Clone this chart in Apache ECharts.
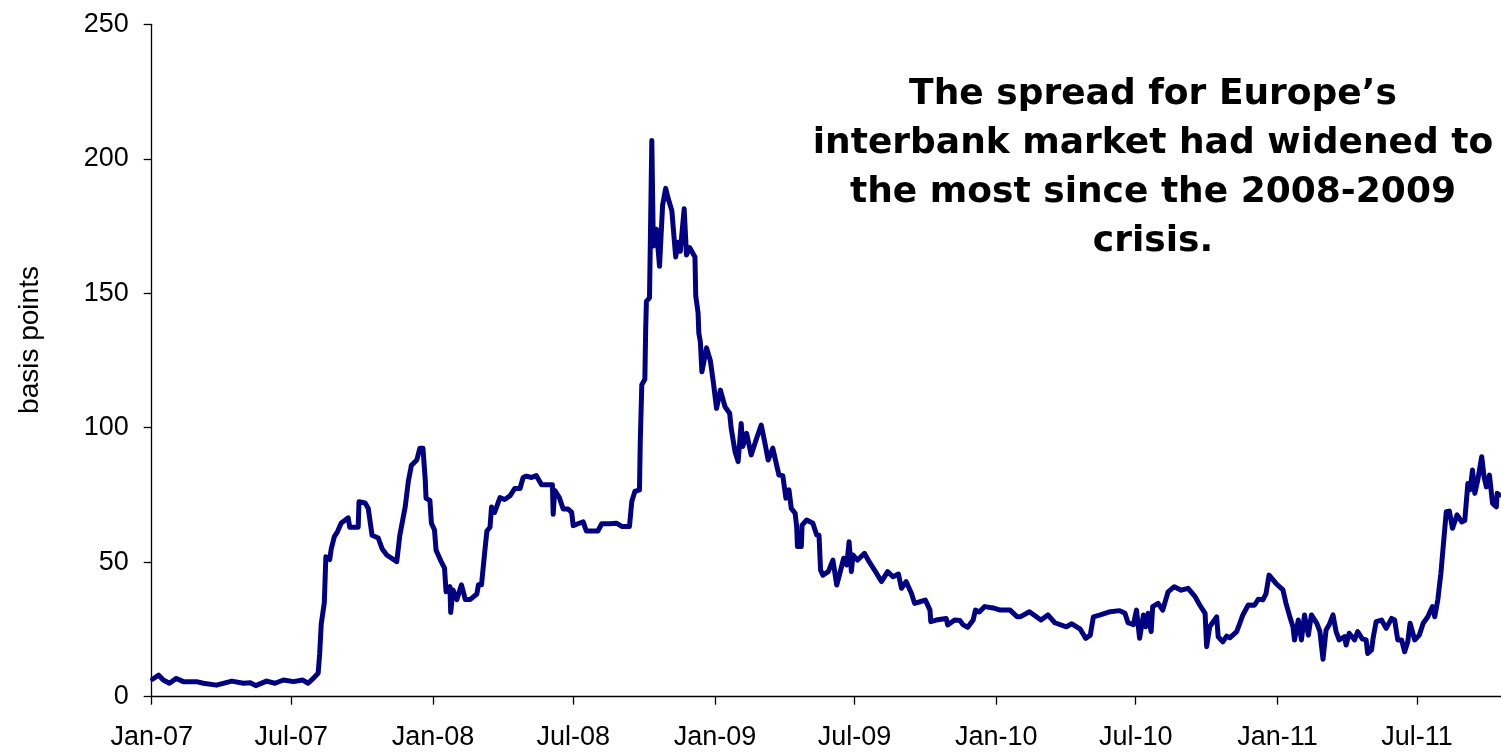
<!DOCTYPE html>
<html>
<head>
<meta charset="utf-8">
<script src="https://cdn.jsdelivr.net/npm/echarts@6/dist/echarts.min.js"></script>
<style>
  html, body { margin: 0; padding: 0; background: #ffffff; }
  #chart { width: 1501px; height: 752px; }
</style>
</head>
<body>
<div id="chart"></div>
<script>
// Euro interbank spread, basis points (daily observations, sampled)
const dates = [
  '2007-01-02','2007-01-10','2007-01-16','2007-01-24','2007-02-02','2007-02-11','2007-02-28','2007-03-09','2007-03-26','2007-04-15',
  '2007-04-30','2007-05-09','2007-05-16','2007-05-30','2007-06-10','2007-06-21','2007-07-04','2007-07-16','2007-07-23','2007-07-31',
  '2007-08-05','2007-08-07','2007-08-09','2007-08-13','2007-08-15','2007-08-20','2007-08-22','2007-08-26','2007-08-30','2007-09-04',
  '2007-09-13','2007-09-15','2007-09-26','2007-09-27','2007-10-05','2007-10-09','2007-10-14','2007-10-22','2007-10-27','2007-11-02',
  '2007-11-15','2007-11-19','2007-11-26','2007-11-30','2007-12-04','2007-12-11','2007-12-15','2007-12-19','2007-12-22','2007-12-23',
  '2007-12-28','2007-12-30','2008-01-03','2008-01-05','2008-01-12','2008-01-16','2008-01-18','2008-01-23','2008-01-24','2008-01-27',
  '2008-02-01','2008-02-07','2008-02-12','2008-02-18','2008-02-27','2008-02-29','2008-03-04','2008-03-08','2008-03-11','2008-03-15',
  '2008-03-17','2008-03-21','2008-03-28','2008-04-03','2008-04-10','2008-04-16','2008-04-23','2008-04-27','2008-05-01','2008-05-08',
  '2008-05-14','2008-05-21','2008-05-29','2008-06-04','2008-06-05','2008-06-07','2008-06-13','2008-06-18','2008-06-24','2008-06-29',
  '2008-07-01','2008-07-07','2008-07-14','2008-07-18','2008-07-27','2008-08-02','2008-08-07','2008-08-17','2008-08-26','2008-09-02',
  '2008-09-12','2008-09-15','2008-09-19','2008-09-25','2008-09-26','2008-09-28','2008-10-02','2008-10-03','2008-10-04','2008-10-08',
  '2008-10-09','2008-10-11','2008-10-13','2008-10-17','2008-10-21','2008-10-25','2008-10-29','2008-11-01','2008-11-06','2008-11-11',
  '2008-11-14','2008-11-17','2008-11-22','2008-11-25','2008-11-29','2008-12-06','2008-12-07','2008-12-10','2008-12-11','2008-12-13',
  '2008-12-15','2008-12-21','2008-12-26','2008-12-30','2009-01-03','2009-01-05','2009-01-08','2009-01-14','2009-01-20','2009-01-22',
  '2009-01-27','2009-01-31','2009-02-04','2009-02-06','2009-02-11','2009-02-17','2009-02-24','2009-03-02','2009-03-06','2009-03-11',
  '2009-03-17','2009-03-22','2009-03-25','2009-03-30','2009-04-03','2009-04-07','2009-04-10','2009-04-15','2009-04-17','2009-04-18',
  '2009-04-23','2009-04-24','2009-04-30','2009-05-08','2009-05-13','2009-05-16','2009-05-18','2009-05-21','2009-05-28','2009-06-03',
  '2009-06-08','2009-06-12','2009-06-17','2009-06-21','2009-06-24','2009-06-27','2009-06-29','2009-07-05','2009-07-14','2009-07-20',
  '2009-07-27','2009-08-05','2009-08-13','2009-08-20','2009-08-27','2009-08-31','2009-09-06','2009-09-13','2009-09-17','2009-09-24',
  '2009-10-01','2009-10-07','2009-10-08','2009-10-15','2009-10-28','2009-10-30','2009-11-08','2009-11-15','2009-11-19','2009-11-25',
  '2009-12-02','2009-12-05','2009-12-10','2009-12-17','2009-12-28','2010-01-06','2010-01-19','2010-01-28','2010-02-01','2010-02-13',
  '2010-02-28','2010-03-09','2010-03-18','2010-04-02','2010-04-09','2010-04-20','2010-04-27','2010-05-03','2010-05-07','2010-05-16',
  '2010-05-29','2010-06-10','2010-06-17','2010-06-21','2010-06-28','2010-07-02','2010-07-06','2010-07-11','2010-07-14','2010-07-17',
  '2010-07-21','2010-07-23','2010-07-30','2010-08-05','2010-08-12','2010-08-20','2010-08-29','2010-09-07','2010-09-16','2010-09-22',
  '2010-09-29','2010-10-01','2010-10-05','2010-10-14','2010-10-16','2010-10-22','2010-10-27','2010-10-31','2010-11-09','2010-11-13',
  '2010-11-17','2010-11-24','2010-12-02','2010-12-07','2010-12-13','2010-12-17','2010-12-21','2010-12-30','2011-01-08','2011-01-12',
  '2011-01-17','2011-01-21','2011-01-23','2011-01-28','2011-02-01','2011-02-05','2011-02-10','2011-02-14','2011-02-21','2011-02-25',
  '2011-03-01','2011-03-05','2011-03-09','2011-03-14','2011-03-18','2011-03-22','2011-03-29','2011-03-31','2011-04-04','2011-04-11',
  '2011-04-15','2011-04-21','2011-04-26','2011-04-28','2011-05-03','2011-05-05','2011-05-09','2011-05-16','2011-05-22','2011-05-29',
  '2011-06-02','2011-06-06','2011-06-11','2011-06-15','2011-06-19','2011-06-22','2011-06-28','2011-07-04','2011-07-09','2011-07-15',
  '2011-07-21','2011-07-24','2011-07-28','2011-08-01','2011-08-04','2011-08-08','2011-08-12','2011-08-16','2011-08-22','2011-08-28',
  '2011-09-01','2011-09-05','2011-09-08','2011-09-11','2011-09-14','2011-09-18','2011-09-23','2011-09-26','2011-09-29','2011-10-03',
  '2011-10-07','2011-10-12','2011-10-13','2011-10-16'
];
const spread = [
  6.5, 8.0, 6.2, 5.0, 6.8, 5.6, 5.6, 5.0, 4.3, 5.8,
  5.0, 5.2, 4.1, 5.8, 5.0, 6.2, 5.6, 6.2, 5.0, 7.2,
  8.7, 16, 27, 35, 52, 51, 55, 59.5, 61.3, 64.6,
  66.5, 63, 63, 72.5, 72, 70, 60, 59, 55, 52.7,
  50.2, 60, 70.6, 80, 86, 88, 92.4, 92.4, 80.6, 73.8,
  73, 64.5, 62, 54.5, 50, 47.8, 39, 40.9, 31.3, 39.7,
  36.1, 41.6, 36.1, 36.1, 38.2, 41.6, 41.6, 53.3, 61.6, 63,
  70.5, 68.5, 74, 73.3, 74.7, 77.4, 77.4, 81.5, 82, 81.5,
  82.2, 78.8, 78.8, 78.8, 67.8, 76.7, 74, 69.8, 69.8, 68.5,
  63.6, 64.3, 65, 61.6, 61.6, 61.6, 64.3, 64.3, 64.5, 63.3,
  63.3, 72.6, 76.3, 76.9, 94.6, 116, 118, 136, 147, 148.3,
  167.6, 206.8, 167.6, 173.8, 160, 182.7, 189, 185.5, 180.7, 163.5,
  169, 165.6, 181.4, 164.2, 167, 163.5, 149, 142.8, 135.2, 131.9,
  120.8, 129.7, 124.9, 116.6, 107.2, 107, 114, 107.8, 105.4, 99.8,
  91.1, 87.4, 101.6, 93, 97.9, 89.9, 96.1, 101, 95.4, 88,
  92.4, 86.1, 82.4, 82.2, 73.8, 76.9, 70, 68.2, 63.2, 55.8,
  55.8, 63.8, 65.7, 64.5, 60.1, 60, 47.1, 45.2, 46.5, 50.8,
  41.5, 45.9, 51.5, 49, 57.6, 46.5, 52.7, 50.8, 53.3, 50.2,
  47.1, 42.8, 46.5, 44.6, 45.6, 40.3, 42.8, 38.4, 34.7, 35.3,
  35.9, 32.2, 27.9, 28.5, 29.1, 26.7, 28.5, 28.3, 26.7, 25.8,
  28.5, 32.2, 31.5, 33.5, 33, 32.2, 32.2, 29.7, 29.7, 31.6,
  28.5, 30.4, 27.5, 26, 27.1, 25.1, 21.7, 22.9, 29.7, 30.4,
  31.6, 32, 31, 27.5, 26.8, 32.2, 21.7, 30.4, 26, 31,
  24.2, 33.5, 34.7, 32.2, 39, 40.9, 39.6, 40.3, 37.2, 34.1,
  31, 18.6, 26, 29.7, 22.3, 20.4, 22.5, 21.9, 24.2, 27.3,
  30.4, 34.1, 34, 36.2, 36, 38.2, 45.2, 42.1, 39.7, 34.7,
  29.7, 26, 21.1, 28.5, 21.1, 30.4, 22.9, 30.4, 27.3, 24.2,
  13.9, 24.8, 26.7, 30.4, 24.2, 21.1, 22.3, 19.2, 23.6, 21.1,
  24.2, 21.5, 21.1, 16.1, 17.4, 21.7, 27.9, 28.5, 25.4, 29.1,
  28.5, 21.1, 21.1, 16.7, 20.4, 27.3, 21.1, 22.9, 27.3, 29.7,
  33.5, 29.7, 36, 45.9, 55.8, 68.8, 69, 62.6, 67.6, 65,
  65.5, 79.3, 77, 84.3, 75.6, 80.8, 89.2, 81.8, 78, 82.4,
  71.9, 70.6, 75.6, 75
];
// Half-yearly tick positions on the date axis
const tickMonths = [
  '2007-01','2007-07','2008-01','2008-07','2009-01','2009-07',
  '2010-01','2010-07','2011-01','2011-07'
];
const monthNames = ['Jan','Feb','Mar','Apr','May','Jun','Jul','Aug','Sep','Oct','Nov','Dec'];
const yTicks = [0, 50, 100, 150, 200, 250];
const axisName = 'basis points';
const note = 'The spread for Europe\u2019s\ninterbank market had widened to\nthe most since the 2008-2009\ncrisis.';

function toTime(s) {
  const p = s.split('-').map(Number);
  return Date.UTC(p[0], p[1] - 1, p[2] || 1);
}
const tickTimes = tickMonths.map(toTime);
const seriesData = dates.map((d, i) => [toTime(d), spread[i]]);

const chart = echarts.init(document.getElementById('chart'), null, { renderer: 'canvas' });
const labelFont = '"Liberation Sans", Arial, sans-serif';

chart.setOption({
  animation: false,
  backgroundColor: '#ffffff',
  grid: { left: 151.7, right: 0, top: 24.3, bottom: 55.3, containLabel: false },
  xAxis: {
    // dates as UTC milliseconds on a linear scale, ticks placed on Jan/Jul
    type: 'value',
    min: toTime('2007-01-01'),
    max: toTime('2011-10-18'),
    splitLine: { show: false },
    axisLine: { show: true, lineStyle: { color: '#000000', width: 1.3 } },
    axisTick: {
      show: true, inside: false, length: 8,
      customValues: tickTimes,
      lineStyle: { color: '#000000', width: 1.3 }
    },
    axisLabel: {
      customValues: tickTimes,
      margin: 27,
      color: '#000000',
      fontSize: 27,
      fontFamily: labelFont,
      formatter: function (v) {
        const d = new Date(v);
        return monthNames[d.getUTCMonth()] + '-' + String(d.getUTCFullYear()).slice(2);
      }
    }
  },
  yAxis: {
    type: 'value',
    min: yTicks[0],
    max: yTicks[yTicks.length - 1],
    interval: 50,
    splitLine: { show: false },
    axisLine: { show: true, lineStyle: { color: '#000000', width: 1.3 } },
    axisTick: { show: true, inside: false, length: 8, lineStyle: { color: '#000000', width: 1.3 } },
    axisLabel: { margin: 23, color: '#000000', fontSize: 27, fontFamily: labelFont }
  },
  series: [{
    type: 'line',
    data: seriesData,
    showSymbol: false,
    symbol: 'none',
    smooth: false,
    lineStyle: { color: '#000080', width: 5, join: 'round', cap: 'round' },
    z: 3
  }],
  graphic: [{
    // vertical axis title
    type: 'text',
    x: 30,
    y: 340,
    rotation: Math.PI / 2,
    style: {
      text: axisName,
      align: 'center',
      verticalAlign: 'middle',
      fill: '#000000',
      font: '28px "Liberation Sans", Arial, sans-serif'
    }
  }, {
    // annotation block
    type: 'text',
    x: 1153,
    y: 70,
    style: {
      text: note,
      align: 'center',
      verticalAlign: 'top',
      fill: '#000000',
      font: 'bold 36px "Comic Sans MS", "DejaVu Sans", sans-serif',
      lineHeight: 49
    }
  }]
});
</script>
</body>
</html>
